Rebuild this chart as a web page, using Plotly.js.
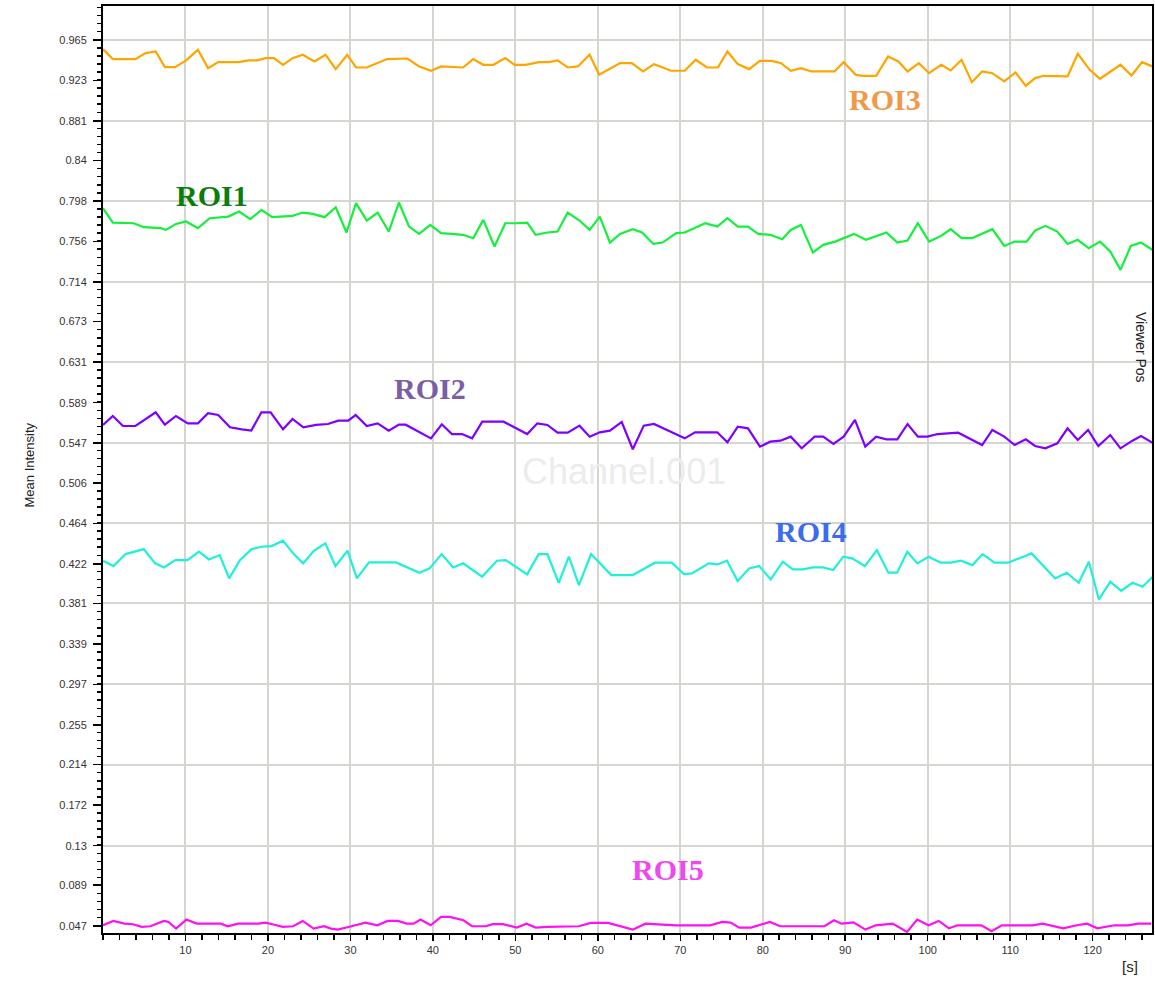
<!DOCTYPE html>
<html>
<head>
<meta charset="utf-8">
<script src="https://cdn.plot.ly/plotly-3.0.1.min.js"></script>
<style>html,body{margin:0;padding:0;background:#fff;}#chart{width:1155px;height:982px;}</style>
</head>
<body>
<div id="chart"></div>
<script>
// ---- data (time in s, mean intensity) ----
const roi3T = [0,1.19,3.93,5.16,6.39,7.5,8.73,10.08,11.51,12.74,13.97,16.43,17.65,18.68,19.7,20.73,21.83,22.98,24.21,25.64,26.99,28.22,29.61,30.68,31.99,34.44,36.9,38.33,39.77,41.0,43.66,44.89,46.11,47.34,48.78,49.92,51.23,52.87,54.1,55.12,56.35,57.58,59.01,60.16,62.7,64.12,65.49,66.81,68.89,70.54,71.87,73.24,74.56,75.72,76.97,78.34,79.66,81.11,82.23,83.39,84.63,85.88,88.7,89.81,91.27,92.1,93.75,95.2,96.45,97.56,98.93,100.17,101.63,102.79,104.11,105.36,106.6,107.84,109.29,110.66,111.9,113.02,114.06,115.72,116.96,118.2,119.65,120.9,122.14,123.38,124.71,126.0,127.24];
const roi3V = [0.9553,0.9450,0.9450,0.9512,0.9529,0.9367,0.9367,0.9436,0.9546,0.9356,0.9418,0.9418,0.9436,0.9436,0.9460,0.9460,0.9391,0.9460,0.9495,0.9425,0.9495,0.9346,0.9495,0.9363,0.9363,0.9450,0.9456,0.9374,0.9329,0.9374,0.9363,0.9450,0.9391,0.9391,0.9460,0.9391,0.9391,0.9418,0.9418,0.9436,0.9363,0.9374,0.9495,0.9288,0.9408,0.9408,0.9322,0.9397,0.9329,0.9329,0.9443,0.9363,0.9363,0.9529,0.9398,0.9346,0.9432,0.9432,0.9408,0.9329,0.9356,0.9322,0.9322,0.9418,0.9287,0.9277,0.9277,0.9477,0.9425,0.9322,0.9408,0.9304,0.9391,0.9332,0.9443,0.9211,0.9322,0.9304,0.9218,0.9311,0.9173,0.9253,0.9277,0.9270,0.9270,0.9505,0.9339,0.9246,0.9322,0.9391,0.9280,0.9418,0.9374];

const roi1T = [0,1.19,3.73,4.96,7.0,7.62,8.85,10.08,11.51,12.94,15.2,16.51,17.86,19.21,20.52,22.98,24.21,25.43,26.87,28.22,29.53,30.68,31.99,33.3,34.65,35.88,37.11,38.33,39.68,40.99,42.22,43.66,44.89,46.11,47.47,48.78,50.09,51.44,52.46,53.89,55.12,56.35,57.78,59.01,60.24,61.47,62.7,64.24,65.36,66.73,67.85,69.51,70.54,73.03,74.48,75.72,76.97,78.21,79.45,80.9,82.36,83.39,84.63,86.08,87.33,88.78,91.06,92.51,95.0,96.32,97.56,98.81,100.17,101.63,102.79,104.11,105.36,107.84,109.29,110.54,111.99,113.02,114.27,115.72,116.96,118.2,119.53,120.9,122.14,123.38,124.63,125.87,127.24];
const roi1V = [0.7905,0.7756,0.7749,0.7708,0.7698,0.7680,0.7742,0.7767,0.7698,0.7801,0.7818,0.7870,0.7791,0.7888,0.7812,0.7825,0.7860,0.7846,0.7812,0.7915,0.7653,0.7957,0.7777,0.7860,0.7663,0.7964,0.7715,0.7639,0.7732,0.7646,0.7639,0.7629,0.7594,0.7784,0.7508,0.7749,0.7749,0.7756,0.7629,0.7653,0.7663,0.7860,0.7777,0.7680,0.7818,0.7549,0.7639,0.7687,0.7653,0.7535,0.7549,0.7646,0.7653,0.7749,0.7715,0.7801,0.7715,0.7715,0.7639,0.7629,0.7584,0.7680,0.7732,0.7445,0.7525,0.7559,0.7639,0.7577,0.7653,0.7549,0.7570,0.7749,0.7559,0.7618,0.7687,0.7594,0.7594,0.7687,0.7514,0.7559,0.7559,0.7673,0.7722,0.7663,0.7535,0.7577,0.7490,0.7559,0.7456,0.7266,0.7514,0.7549,0.7473];

const roi2T = [0,1.19,2.42,3.93,6.39,7.5,8.85,10.28,11.51,12.74,13.97,15.4,16.84,17.98,19.21,20.32,21.83,22.98,24.29,25.84,27.28,28.51,29.73,30.64,31.99,33.3,34.65,35.88,36.7,39.77,41.08,42.31,43.53,44.76,45.99,48.57,51.44,52.67,53.89,55.12,56.35,57.78,59.01,60.24,61.47,62.9,64.24,65.57,66.81,70.54,71.79,74.48,75.72,76.97,78.21,79.66,80.9,82.15,83.39,84.72,86.29,87.33,88.57,89.81,91.18,92.43,93.75,95.0,96.32,97.56,98.81,99.97,101.21,103.7,106.6,107.84,109.29,110.54,111.9,113.02,114.27,115.72,116.96,118.2,119.45,120.69,122.14,123.38,124.83,125.87,127.24];
const roi2V = [0.5659,0.5752,0.5648,0.5648,0.5790,0.5662,0.5752,0.5676,0.5676,0.5780,0.5762,0.5635,0.5614,0.5600,0.5790,0.5790,0.5614,0.5721,0.5635,0.5659,0.5669,0.5704,0.5704,0.5762,0.5648,0.5676,0.5600,0.5662,0.5662,0.5520,0.5666,0.5565,0.5565,0.5520,0.5693,0.5693,0.5565,0.5676,0.5659,0.5579,0.5579,0.5652,0.5538,0.5583,0.5600,0.5690,0.5407,0.5652,0.5669,0.5520,0.5583,0.5583,0.5479,0.5642,0.5624,0.5434,0.5486,0.5496,0.5538,0.5417,0.5538,0.5538,0.5462,0.5538,0.5711,0.5434,0.5538,0.5510,0.5510,0.5669,0.5538,0.5538,0.5565,0.5579,0.5451,0.5607,0.5538,0.5451,0.5510,0.5441,0.5417,0.5469,0.5624,0.5503,0.5607,0.5441,0.5555,0.5417,0.5496,0.5545,0.5476];

const roi4T = [0,1.27,2.74,3.71,4.94,6.32,7.39,8.77,10.24,11.63,12.85,14.15,15.3,16.6,17.99,19.21,20.44,21.82,23.13,24.27,25.57,26.96,28.18,29.65,30.79,32.26,35.52,38.38,39.6,41.07,42.46,43.68,45.97,47.76,48.82,51.43,52.82,53.88,55.26,56.49,57.71,59.18,61.63,64.24,66.93,68.97,70.44,71.41,73.45,74.51,75.66,76.96,78.35,79.57,80.96,82.43,83.65,84.87,86.1,87.32,88.54,89.77,90.83,92.38,93.84,95.23,96.29,97.52,98.74,100.12,101.59,102.82,104.04,105.43,106.65,108.12,109.75,112.6,114.24,115.46,116.85,118.31,119.54,120.76,122.15,123.45,124.84,126.06,127.29];
const roi4V = [0.4252,0.4197,0.4321,0.4346,0.4373,0.4225,0.4183,0.4259,0.4259,0.4346,0.4266,0.4311,0.4069,0.4259,0.4370,0.4397,0.4404,0.4460,0.4321,0.4225,0.4356,0.4432,0.4197,0.4356,0.4069,0.4235,0.4235,0.4128,0.4173,0.4321,0.4183,0.4225,0.4086,0.4252,0.4259,0.4111,0.4321,0.4321,0.4024,0.4294,0.4000,0.4321,0.4104,0.4104,0.4232,0.4232,0.4114,0.4121,0.4225,0.4214,0.4252,0.4042,0.4173,0.4197,0.4059,0.4242,0.4163,0.4163,0.4183,0.4183,0.4156,0.4294,0.4277,0.4197,0.4363,0.4128,0.4128,0.4346,0.4225,0.4294,0.4232,0.4232,0.4252,0.4207,0.4321,0.4232,0.4232,0.4328,0.4173,0.4069,0.4128,0.4024,0.4242,0.3851,0.4035,0.3941,0.4024,0.3983,0.4086];

const roi5T = [0,1.26,2.6,3.64,4.68,5.73,7.4,7.94,8.86,10.11,11.36,14.28,15.12,16.37,18.87,19.71,20.54,21.8,23.05,24.22,25.55,26.8,27.64,28.47,30.14,31.81,33.27,34.53,35.78,36.82,37.66,38.49,39.74,40.99,42.04,43.71,44.75,46.42,47.26,48.51,50.18,51.35,52.47,53.93,57.69,59.15,61.24,62.7,64.24,65.77,66.81,69.49,73.63,75.08,76.11,77.15,78.59,79.63,80.87,82.11,87.48,88.64,89.55,91.0,92.45,93.69,95.76,97.49,98.73,100.1,101.34,102.58,103.61,106.51,107.75,108.99,112.71,113.95,116.43,118.09,119.33,120.57,122.64,124.29,125.53,127.1];
const roi5V = [0.0475,0.0520,0.0492,0.0486,0.0458,0.0465,0.0520,0.0510,0.0441,0.0534,0.0492,0.0492,0.0465,0.0492,0.0492,0.0503,0.0486,0.0458,0.0465,0.0520,0.0441,0.0465,0.0441,0.0430,0.0465,0.0503,0.0475,0.0520,0.0520,0.0492,0.0492,0.0534,0.0475,0.0562,0.0562,0.0527,0.0465,0.0465,0.0486,0.0486,0.0451,0.0492,0.0451,0.0458,0.0465,0.0500,0.0500,0.0465,0.0430,0.0492,0.0486,0.0475,0.0475,0.0510,0.0503,0.0451,0.0451,0.0475,0.0510,0.0465,0.0465,0.0527,0.0492,0.0506,0.0430,0.0475,0.0492,0.0406,0.0534,0.0475,0.0520,0.0444,0.0475,0.0475,0.0413,0.0475,0.0475,0.0492,0.0444,0.0475,0.0492,0.0444,0.0475,0.0475,0.0492,0.0492];

const yTickLabels = ["0.047","0.089","0.13","0.172","0.214","0.255","0.297","0.339","0.381","0.422","0.464","0.506","0.547","0.589","0.631","0.673","0.714","0.756","0.798","0.84","0.881","0.923","0.965"];
const yGridLabels = ["0.13","0.214","0.297","0.381","0.464","0.547","0.631","0.714","0.798","0.881","0.965"];
const xTickVals = [10,20,30,40,50,60,70,80,90,100,110,120];

const seriesNames = ["ROI1","ROI2","ROI3","ROI4","ROI5"];
const lineColors = ["#14f03c","#7f00ff","#ffa500","#1ff0d8","#ff10f0"];
const labelColors = ["#0a7d0a","#7b5fa6","#f39848","#3b6cf0","#ee48ee"];
const labelPos = [[13.2,0.804],[39.6,0.604],[94.8,0.903],[85.9,0.455],[68.5,0.105]];

const data = [
  {t: roi1T, v: roi1V}, {t: roi2T, v: roi2V}, {t: roi3T, v: roi3V},
  {t: roi4T, v: roi4V}, {t: roi5T, v: roi5V}
];

const traces = data.map((d, i) => ({
  type: 'scatter', mode: 'lines', x: d.t, y: d.v, name: seriesNames[i],
  line: {color: lineColors[i], width: 2.2}, hoverinfo: 'skip'
}));
// helper empty trace so the grid overlay axis exists
traces.push({type:'scatter', mode:'lines', x:[], y:[], yaxis:'y2', showlegend:false, hoverinfo:'skip'});

const yVals = yTickLabels.map(Number);
const gridVals = yGridLabels.map(Number);
const yRange = [0.0395, 1.0];

// pixel helpers for the free texts
const W = 1155, H = 982, mL = 103, mR = 3, mT = 6, mB = 49;
const plotW = W - mL - mR, plotH = H - mT - mB;
const px = x => (x - mL) / plotW;
const py = y => (H - mB - y) / plotH;

const annotations = seriesNames.map((n, i) => ({
  x: labelPos[i][0], y: labelPos[i][1], xref: 'x', yref: 'y', text: '<b>' + n + '</b>',
  showarrow: false, font: {family: 'Liberation Serif, Times New Roman, serif', size: 30, color: labelColors[i]}
}));
annotations.push({
  x: 0.497, y: 0.498, xref: 'paper', yref: 'paper', text: 'Channel.001', showarrow: false,
  font: {family: 'Liberation Sans, Arial, sans-serif', size: 36, color: '#ececec'}
});
annotations.push({
  x: px(1151), y: py(347), xref: 'paper', yref: 'paper', text: 'Viewer Pos', showarrow: false, textangle: 90,
  font: {family: 'Liberation Sans, Arial, sans-serif', size: 14, color: '#222'}
});
annotations.push({
  x: px(1140), y: py(977), xref: 'paper', yref: 'paper', text: '[s]', showarrow: false,
  font: {family: 'Liberation Sans, Arial, sans-serif', size: 15, color: '#222'}
});
annotations.push({
  x: px(19), y: py(465), xref: 'paper', yref: 'paper', text: 'Mean Intensity', showarrow: false, textangle: -90,
  font: {family: 'Liberation Sans, Arial, sans-serif', size: 13, color: '#222'}
});

const layout = {
  width: W, height: H,
  margin: {l: mL, r: mR, t: mT, b: mB},
  paper_bgcolor: '#ffffff', plot_bgcolor: '#ffffff',
  showlegend: false, hovermode: false,
  font: {family: 'Liberation Sans, Arial, sans-serif', size: 11, color: '#333'},
  xaxis: {
    range: [0, 127.2], tickmode: 'array', tickvals: xTickVals, ticktext: xTickVals.map(String),
    ticks: 'outside', ticklen: 6, tickwidth: 1.5, tickcolor: '#000',
    showline: true, linecolor: '#000', linewidth: 2, mirror: true,
    showgrid: true, gridcolor: '#d6d6d0', gridwidth: 2, zeroline: false,
    minor: {tickmode: 'linear', tick0: 0, dtick: 2, ticks: 'outside', ticklen: 5, tickwidth: 1.5, tickcolor: '#000', showgrid: false},
    tickfont: {size: 11, color: '#333'}
  },
  yaxis: {
    range: yRange, tickmode: 'array', tickvals: yVals, ticktext: yTickLabels,
    ticks: 'outside', ticklen: 8, tickwidth: 1.5, tickcolor: '#000',
    showline: true, linecolor: '#000', linewidth: 2, mirror: true,
    showgrid: false, zeroline: false, ticklabelstandoff: 4,
    minor: {tickmode: 'linear', tick0: 0.047, dtick: (0.965 - 0.047) / 110, ticks: 'outside', ticklen: 4, tickwidth: 1.5, tickcolor: '#000', showgrid: false},
    tickfont: {size: 11, color: '#333'}
  },
  yaxis2: {
    range: yRange, overlaying: 'y', side: 'left', tickmode: 'array', tickvals: gridVals,
    showticklabels: false, ticks: '', showline: false, zeroline: false,
    showgrid: true, gridcolor: '#d6d6d0', gridwidth: 2
  },
  annotations: annotations
};

Plotly.newPlot('chart', traces, layout, {displayModeBar: false, staticPlot: true});
</script>
</body>
</html>
